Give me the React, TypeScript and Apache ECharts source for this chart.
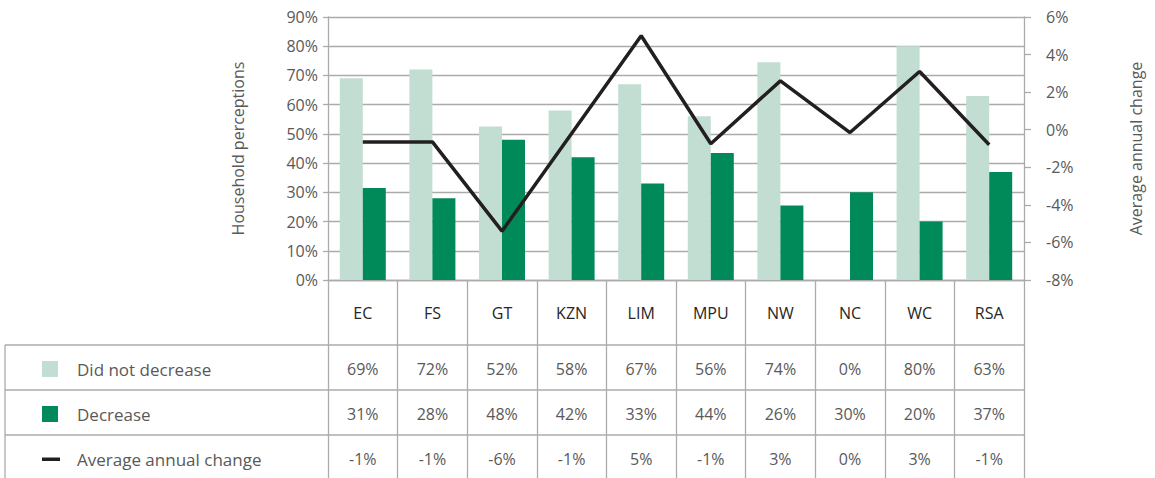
import React, { useEffect, useRef } from "react";
import * as echarts from "echarts";

const categories = ["EC", "FS", "GT", "KZN", "LIM", "MPU", "NW", "NC", "WC", "RSA"];
const seriesNames = ["Did not decrease", "Decrease", "Average annual change"];
const didNotDecrease = [69, 72, 52.5, 58, 67, 56, 74.5, 0, 80, 63];
const decrease = [31.5, 28, 48, 42, 33, 43.5, 25.5, 30, 20, 37];
const avgChange = [-0.65, -0.65, -5.4, -0.2, 5.0, -0.75, 2.6, -0.15, 3.1, -0.8];
const didNotDecreaseLabels = ["69%", "72%", "52%", "58%", "67%", "56%", "74%", "0%", "80%", "63%"];
const decreaseLabels = ["31%", "28%", "48%", "42%", "33%", "44%", "26%", "30%", "20%", "37%"];
const avgChangeLabels = ["-1%", "-1%", "-6%", "-1%", "5%", "-1%", "3%", "0%", "3%", "-1%"];

const W = 1155;
const H = 478;
const GL = 328;
const GR = 1024;
const GT = 17;
const GB = 280;
const LIGHT = "#c2ded3";
const DARK = "#008a5a";
const LINEC = "#231f20";
const GRID = "#ababab";
const TXT = "#595959";
const FONT = "'Open Sans', 'Noto Sans', sans-serif";

export default function App() {
  const ref = useRef<HTMLDivElement>(null);
  useEffect(() => {
    if (!ref.current) return;
    const chart = echarts.init(ref.current, null, { renderer: "svg" });
    const colW = (GR - GL) / categories.length;
    const rowLines = [345, 390, 435];
    const rowY = [369, 414, 459];
    const rowLabels = [didNotDecreaseLabels, decreaseLabels, avgChangeLabels];
    const graphics: any[] = [];
    rowLines.forEach((y) => {
      graphics.push({
        type: "line",
        shape: { x1: 5, y1: y, x2: GR, y2: y },
        style: { stroke: GRID, lineWidth: 1.3 },
      });
    });
    graphics.push({
      type: "line",
      shape: { x1: 5, y1: 345, x2: 5, y2: H },
      style: { stroke: GRID, lineWidth: 1.3 },
    });
    // legend symbols
    graphics.push({ type: "rect", shape: { x: 42, y: rowY[0] - 8, width: 16, height: 16 }, style: { fill: LIGHT } });
    graphics.push({ type: "rect", shape: { x: 42, y: rowY[1] - 8, width: 16, height: 16 }, style: { fill: DARK } });
    graphics.push({ type: "rect", shape: { x: 42, y: rowY[2] - 1.5, width: 18, height: 3.5 }, style: { fill: LINEC } });
    seriesNames.forEach((n, r) => {
      graphics.push({
        type: "text",
        x: 77,
        y: rowY[r],
        style: { text: n, fill: TXT, font: `17px ${FONT}`, textVerticalAlign: "middle", textAlign: "left" },
      });
    });
    rowLabels.forEach((labels, r) => {
      labels.forEach((t, i) => {
        graphics.push({
          type: "text",
          x: GL + (i + 0.5) * colW,
          y: rowY[r],
          style: { text: t, fill: TXT, font: `16px ${FONT}`, textVerticalAlign: "middle", textAlign: "center" },
        });
      });
    });

    chart.setOption({
      animation: false,
      textStyle: { fontFamily: FONT },
      grid: { left: GL, right: W - GR, top: GT, bottom: H - GB, containLabel: false },
      xAxis: {
        type: "category",
        data: categories,
        boundaryGap: true,
        axisLine: { show: true, lineStyle: { color: GRID, width: 1.3 } },
        axisTick: { show: true, length: H - GB, interval: 0, lineStyle: { color: GRID, width: 1.3 } },
        axisLabel: { color: "#262626", fontSize: 16, margin: 25, interval: 0 },
      },
      yAxis: [
        {
          type: "value",
          min: 0,
          max: 90,
          interval: 10,
          name: "Household perceptions",
          nameLocation: "middle",
          nameGap: 82,
          nameTextStyle: { color: TXT, fontSize: 16 },
          axisLine: { show: true, lineStyle: { color: GRID, width: 1.3 } },
          axisTick: { show: true, length: 5, lineStyle: { color: GRID, width: 1.3 } },
          axisLabel: { color: TXT, fontSize: 16, margin: 10, formatter: "{value}%" },
          splitLine: { show: true, lineStyle: { color: GRID, width: 1.3 } },
        },
        {
          type: "value",
          min: -8,
          max: 6,
          interval: 2,
          position: "right",
          name: "Average annual change",
          nameLocation: "middle",
          nameGap: 104,
          nameRotate: 90,
          nameTextStyle: { color: TXT, fontSize: 16 },
          axisLine: { show: true, lineStyle: { color: GRID, width: 1.3 } },
          axisTick: { show: true, length: 7, lineStyle: { color: GRID, width: 1.3 } },
          axisLabel: { color: TXT, fontSize: 16, margin: 22, formatter: "{value}%" },
          splitLine: { show: false },
        },
      ],
      series: [
        {
          name: seriesNames[0],
          type: "bar",
          data: didNotDecrease,
          barWidth: 23,
          barGap: "0%",
          itemStyle: { color: LIGHT },
        },
        {
          name: seriesNames[1],
          type: "bar",
          data: decrease,
          barWidth: 23,
          barGap: "0%",
          itemStyle: { color: DARK },
        },
        {
          name: seriesNames[2],
          type: "line",
          yAxisIndex: 1,
          data: avgChange,
          symbol: "none",
          lineStyle: { color: LINEC, width: 3.5 },
          z: 5,
        },
      ],
      graphic: graphics,
    });
    return () => chart.dispose();
  }, []);
  return (
    <div
      ref={ref}
      style={{ position: "fixed", left: 0, top: 0, width: W, height: H, background: "#fff" }}
    />
  );
}
